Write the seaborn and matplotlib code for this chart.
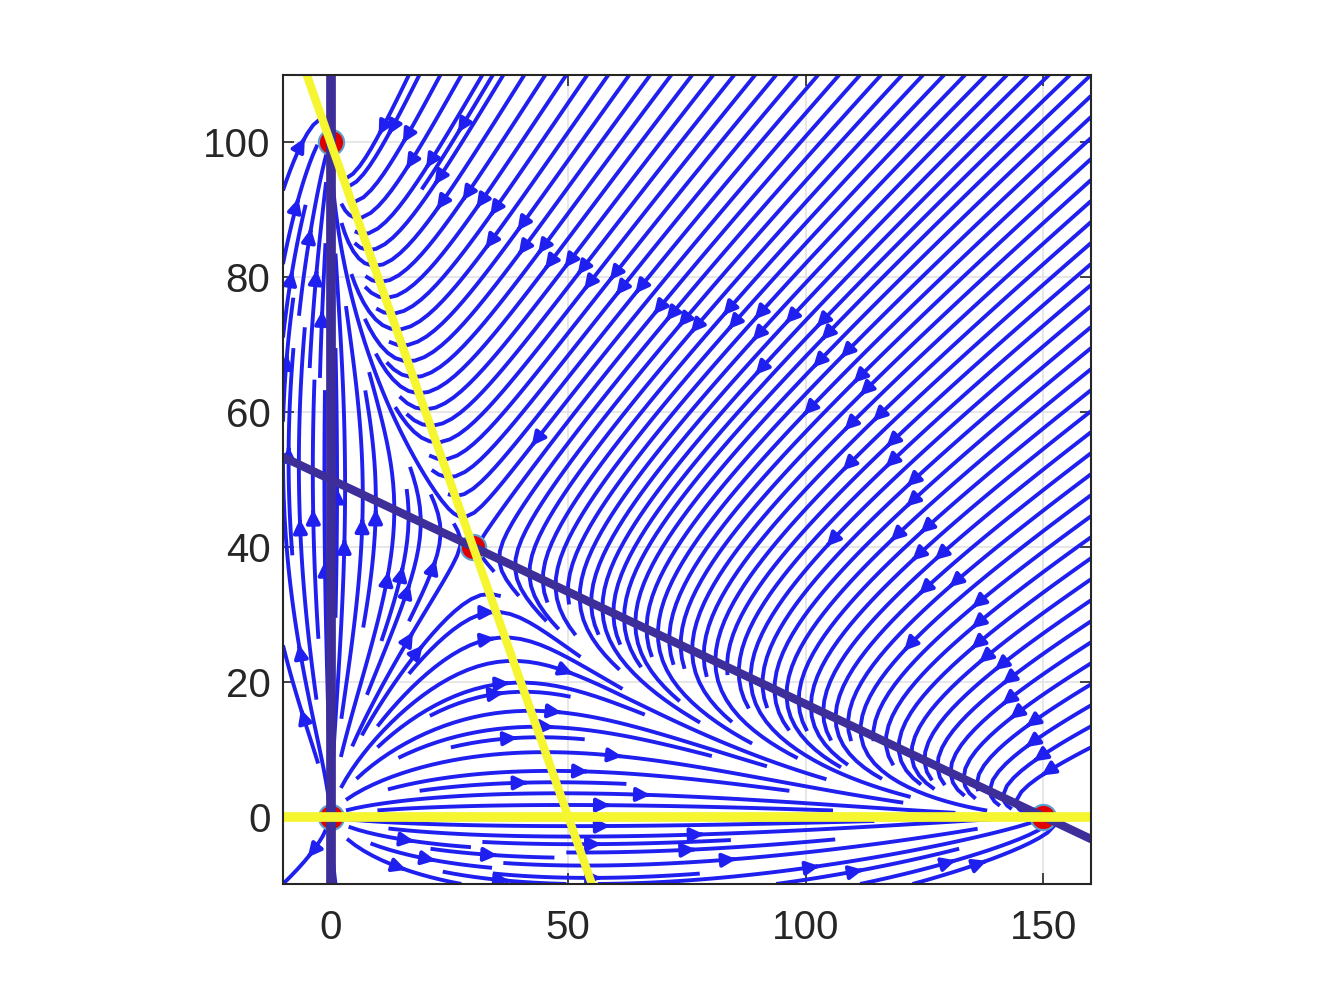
import numpy as np
import pandas as pd
import matplotlib
matplotlib.use("Agg")
import matplotlib.pyplot as plt
import seaborn as sns

# competition model: dx = x (K1 - x - a12 y), dy = y (K2 - y - a21 x)
K1, K2 = 150.0, 100.0
a12, a21 = 3.0, 2.0

# equilibria
eq_x = [0, 0, 150, 30]
eq_y = [0, 100, 0, 40]

xlim = (-10, 160)
ylim = (-10, 110)
xticks = [0, 50, 100, 150]
yticks = [0, 20, 40, 60, 80, 100]

sns.set_theme(style="white")
plt.rcParams['font.family'] = ['Liberation Sans', 'DejaVu Sans']

fig = plt.figure(figsize=(13.28, 9.94), dpi=100)
ax = fig.add_axes([0.2131, 0.1107, 0.6084, 0.8139])

gx = np.linspace(xlim[0], xlim[1], 200)
gy = np.linspace(ylim[0], ylim[1], 200)
X, Y = np.meshgrid(gx, gy)
U = X * (K1 - X - a12 * Y)
V = Y * (K2 - Y - a21 * X)
ax.streamplot(X, Y, U, V, density=2.6, color='#1f1fef', linewidth=2.8,
              arrowsize=2.0, arrowstyle='-|>', minlength=0.15, zorder=2)

# equilibria
pts = pd.DataFrame({'x': eq_x, 'y': eq_y})
sns.scatterplot(data=pts, x='x', y='y', ax=ax, s=330, color='#e00000',
                edgecolor='#5aa0d0', linewidth=1.5, zorder=3)

# x-nullclines (purple) and y-nullclines (yellow)
lx = np.array(xlim, dtype=float)
purple = '#3d2e9a'
yellow = '#f5f530'
ax.plot([0, 0], ylim, color=purple, lw=7, zorder=4, solid_capstyle='butt')
sns.lineplot(x=lx, y=(K1 - lx) / a12, ax=ax, color=purple, lw=6, zorder=4)
ax.plot(xlim, [0, 0], color=yellow, lw=7, zorder=5, solid_capstyle='butt')
ly = np.array([(K2 - ylim[1]) / a21, (K2 - ylim[0]) / a21])
sns.lineplot(x=ly, y=K2 - a21 * ly, ax=ax, color=yellow, lw=6, zorder=5)

ax.set_xlim(xlim)
ax.set_ylim(ylim)
ax.set_xticks(xticks)
ax.set_yticks(yticks)
ax.set_xlabel('')
ax.set_ylabel('')
ax.grid(True, color='#e3e3e3', lw=1.2)
ax.set_axisbelow(True)
ax.tick_params(direction='in', length=8, width=1.2, top=True, right=True,
               labelsize=29, colors='#262626', bottom=True, left=True)
ax.tick_params(axis='x', pad=18)
ax.tick_params(axis='y', pad=9)
for s in ax.spines.values():
    s.set_color('#262626')
    s.set_linewidth(1.5)
    s.set_zorder(6)

fig.savefig('out.png', dpi=100)
